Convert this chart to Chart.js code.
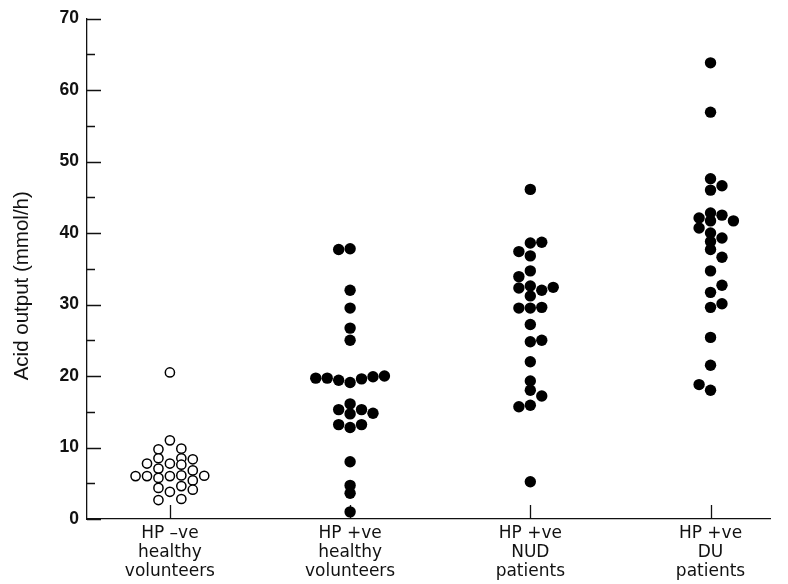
<!DOCTYPE html>
<html>
<head>
<meta charset="utf-8">
<script src="https://cdn.jsdelivr.net/npm/chart.js@4.4.1/dist/chart.umd.min.js"></script>
<style>
  html, body { margin: 0; padding: 0; background: #fff; }
  #wrap { width: 788px; height: 584px; }
</style>
</head>
<body>
<div id="wrap"><canvas id="chart"></canvas></div>
<script>
// groups along the x axis
const categories = [
    ['HP \u2013ve', 'healthy', 'volunteers'],
    ['HP +ve', 'healthy', 'volunteers'],
    ['HP +ve', 'NUD', 'patients'],
    ['HP +ve', 'DU', 'patients']
];

// acid output values (mmol/h), with the dot column each sits in
const hpNegHealthy = [20.5, 11.0, 9.74, 9.84, 8.5, 8.5, 8.35, 7.75, 7.75, 7.6, 7.05, 6.8, 6.0, 6.0, 5.75, 6.0, 6.1, 6.05, 5.4, 4.35, 4.6, 4.1, 3.8, 2.65, 2.8];
const hpNegHealthyCol = [0, 0, -1, 1, -1, 1, 2, -2, 0, 1, -1, 2, -3, -2, -1, 0, 1, 3, 2, -1, 1, 2, 0, -1, 1];

const hpPosHealthy = [37.7, 37.8, 32.0, 29.5, 26.7, 25.0, 19.7, 19.7, 19.4, 19.1, 19.6, 19.9, 20.0, 16.1, 15.3, 15.3, 14.7, 14.8, 13.2, 13.2, 12.8, 8.0, 4.7, 3.6, 1.0];
const hpPosHealthyCol = [-1, 0, 0, 0, 0, 0, -3, -2, -1, 0, 1, 2, 3, 0, -1, 1, 0, 2, -1, 1, 0, 0, 0, 0, 0];

const hpPosNud = [46.1, 38.6, 38.7, 37.4, 36.8, 34.7, 33.9, 32.3, 32.6, 32.0, 32.4, 31.2, 29.5, 29.5, 29.6, 27.2, 24.8, 25.0, 22.0, 19.3, 18.0, 17.2, 15.7, 15.9, 5.2];
const hpPosNudCol = [0, 0, 1, -1, 0, 0, -1, -1, 0, 1, 2, 0, -1, 0, 1, 0, 0, 1, 0, 0, 0, 1, -1, 0, 0];

const hpPosDu = [63.8, 56.9, 47.6, 46.6, 46.0, 42.8, 42.5, 42.1, 41.7, 41.7, 40.7, 40.0, 38.8, 39.3, 37.7, 36.6, 34.7, 32.7, 31.7, 30.1, 29.6, 25.4, 21.5, 18.8, 18.0];
const hpPosDuCol = [0, 0, 0, 1, 0, 0, 1, -1, 2, 0, -1, 0, 0, 1, 0, 1, 0, 1, 0, 1, 0, 0, 0, -1, 0];

const yTicks = [0, 10, 20, 30, 40, 50, 60, 70];
const yTitle = 'Acid output (mmol/h)';

const colWidth = 0.0635; // spacing between dot columns, in group units

function toPoints(values, cols, group) {
    return values.map((v, i) => ({ x: group + cols[i] * colWidth, y: v }));
}

// short inward ticks on both axes, like the printed figure
const inwardTicks = {
    id: 'inwardTicks',
    beforeDatasetsDraw(chart) {
        const ctx = chart.ctx;
        const xs = chart.scales.x, ys = chart.scales.y;
        ctx.save();
        ctx.strokeStyle = '#111';
        ctx.lineWidth = 1.3;
        ctx.beginPath();
        ys.ticks.forEach(t => {
            const py = Math.round(ys.getPixelForValue(t.value)) + 0.5;
            const len = t.value % 10 === 0 ? 14 : 8;
            ctx.moveTo(xs.left, py);
            ctx.lineTo(xs.left + len, py);
        });
        xs.ticks.forEach(t => {
            const px = Math.round(xs.getPixelForValue(t.value)) + 0.5;
            ctx.moveTo(px, ys.bottom);
            ctx.lineTo(px, ys.bottom - 14);
        });
        ctx.stroke();
        ctx.restore();
    }
};

// y title sits a little below the middle of the axis in the original
const sideTitle = {
    id: 'sideTitle',
    afterDraw(chart) {
        const ctx = chart.ctx;
        const ys = chart.scales.y;
        ctx.save();
        ctx.translate(28, (ys.top + ys.bottom) / 2 + 17);
        ctx.rotate(-Math.PI / 2);
        ctx.font = '20.5px "Liberation Sans"';
        ctx.fillStyle = '#111';
        ctx.textAlign = 'center';
        ctx.textBaseline = 'alphabetic';
        ctx.fillText(yTitle, 0, 0);
        ctx.restore();
    }
};

const filled = { pointRadius: 5.7, pointHoverRadius: 5.7, backgroundColor: '#000', borderColor: '#000', borderWidth: 0 };

new Chart(document.getElementById('chart'), {
    type: 'scatter',
    data: {
        datasets: [
            { data: toPoints(hpNegHealthy, hpNegHealthyCol, 0), pointRadius: 4.6, pointHoverRadius: 4.6, backgroundColor: '#fff', borderColor: '#000', borderWidth: 1.5 },
            Object.assign({ data: toPoints(hpPosHealthy, hpPosHealthyCol, 1) }, filled),
            Object.assign({ data: toPoints(hpPosNud, hpPosNudCol, 2) }, filled),
            Object.assign({ data: toPoints(hpPosDu, hpPosDuCol, 3) }, filled)
        ]
    },
    options: {
        responsive: true,
        maintainAspectRatio: false,
        animation: false,
        events: [],
        layout: { padding: { top: 16, right: 18, left: 0, bottom: 0 } },
        plugins: { legend: { display: false }, tooltip: { enabled: false } },
        scales: {
            x: {
                type: 'linear',
                min: -0.46,
                max: 3.33,
                afterBuildTicks: s => { s.ticks = categories.map((c, i) => ({ value: i })); },
                afterFit: s => { s.height = 65; },
                grid: { display: false, drawTicks: false },
                border: { display: true, color: '#111', width: 1.3 },
                ticks: {
                    padding: 5,
                    color: '#111',
                    maxRotation: 0,
                    autoSkip: false,
                    font: { family: 'DejaVu Sans', size: 17, lineHeight: 1.12 },
                    callback: (v) => categories[v]
                }
            },
            y: {
                min: 0,
                max: 70,
                afterBuildTicks: s => {
                    const t = [];
                    for (let v = 0; v <= 70; v += 5) t.push({ value: v });
                    s.ticks = t;
                },
                afterFit: s => { s.width = 87; },
                grid: { display: false, drawTicks: false },
                border: { display: true, color: '#111', width: 1.3 },
                ticks: {
                    padding: 8,
                    color: '#111',
                    font: { family: 'Liberation Sans', size: 17.5, weight: 'bold' },
                    callback: (v) => yTicks.includes(v) ? String(v) : ''
                }
            }
        }
    },
    plugins: [inwardTicks, sideTitle]
});
</script>
</body>
</html>
